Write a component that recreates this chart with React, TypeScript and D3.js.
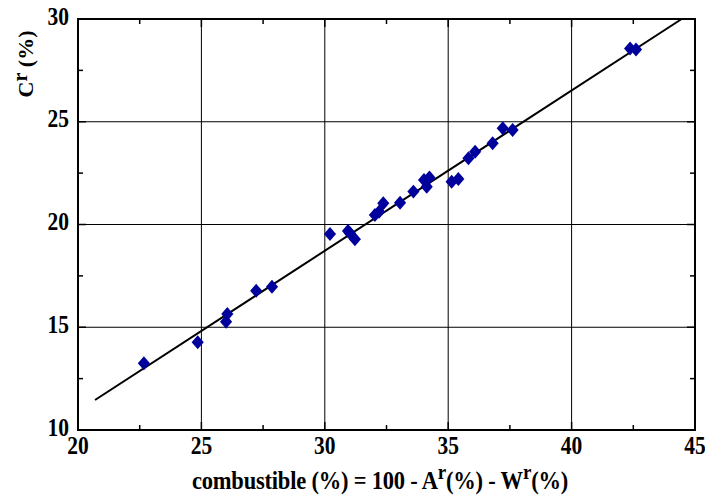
import React, { useEffect, useRef } from 'react'
import * as d3 from 'd3'

// combustible (%) values
const combustible = [
  22.67, 24.85, 26.0, 26.05, 27.22, 27.86,
  30.21, 30.94, 31.02, 31.22, 32.03, 32.2, 32.37, 33.05,
  33.59, 34.02, 34.13, 34.24, 35.14, 35.41, 35.82, 36.09,
  36.8, 37.21, 37.61, 42.37, 42.61,
]
// C^r (%) values
const carbon = [
  13.25, 14.27, 15.27, 15.64, 16.78, 16.97,
  19.54, 19.68, 19.57, 19.28, 20.46, 20.62, 21.03, 21.06,
  21.6, 22.17, 21.84, 22.29, 22.08, 22.21, 23.22, 23.54,
  23.95, 24.68, 24.6, 28.57, 28.52,
]
// fitted line end points
const fitX = [20.69, 44.46]
const fitY = [11.46, 30]

const xTicks = [20, 25, 30, 35, 40, 45]
const yTicks = [10, 15, 20, 25, 30]
const xMinor = [22.5, 27.5, 32.5, 37.5, 42.5]
const yMinor = [12.5, 17.5, 22.5, 27.5]

const FONT = 'Liberation Serif'
// the original figure is a little stretched vertically
const SY = 1.15

export default function App() {
  const ref = useRef<SVGSVGElement>(null)

  useEffect(() => {
    const svg = d3.select(ref.current)
    svg.selectAll('*').remove()

    const margin = { top: 19, right: 10, bottom: 71, left: 78 },
      width = 705 - margin.left - margin.right,
      height = 501 - margin.top - margin.bottom

    const x = d3.scaleLinear().domain([20, 45]).range([0, width]),
      y = d3.scaleLinear().domain([10, 30]).range([height, 0])

    const g = svg.append('g')
      .attr('transform', 'translate(' + margin.left + ',' + margin.top + ')')

    // grid
    g.selectAll('.vgrid').data(xTicks.slice(1, -1)).enter().append('line')
      .attr('x1', d => x(d)).attr('x2', d => x(d))
      .attr('y1', 0).attr('y2', height)
      .attr('stroke', '#000').attr('stroke-width', 1)
    g.selectAll('.hgrid').data(yTicks.slice(1, -1)).enter().append('line')
      .attr('y1', d => y(d)).attr('y2', d => y(d))
      .attr('x1', 0).attr('x2', width)
      .attr('stroke', '#000').attr('stroke-width', 1)

    // inward ticks on all four sides
    const tick = (vals: number[], len: number) => {
      vals.forEach(v => {
        g.append('line').attr('x1', x(v)).attr('x2', x(v)).attr('y1', height).attr('y2', height - len)
          .attr('stroke', '#000').attr('stroke-width', 1.5)
        g.append('line').attr('x1', x(v)).attr('x2', x(v)).attr('y1', 0).attr('y2', len)
          .attr('stroke', '#000').attr('stroke-width', 1.5)
      })
    }
    tick(xMinor, 5)
    tick(xTicks, 8)
    const ytick = (vals: number[], len: number) => {
      vals.forEach(v => {
        g.append('line').attr('y1', y(v)).attr('y2', y(v)).attr('x1', 0).attr('x2', len)
          .attr('stroke', '#000').attr('stroke-width', 1.5)
        g.append('line').attr('y1', y(v)).attr('y2', y(v)).attr('x1', width).attr('x2', width - len)
          .attr('stroke', '#000').attr('stroke-width', 1.5)
      })
    }
    ytick(yMinor, 5)
    ytick(yTicks, 8)

    // fitted line
    const line = d3.line<number>().x((d, i) => x(fitX[i])).y(d => y(d))
    g.append('path').datum(fitY)
      .attr('d', line)
      .attr('fill', 'none').attr('stroke', '#000').attr('stroke-width', 2)

    // points
    const diamond = d3.symbol().type(d3.symbolSquare).size(74)
    g.selectAll('.pt').data(combustible).enter().append('path')
      .attr('d', diamond)
      .attr('transform', (d, i) => 'translate(' + x(d) + ',' + y(carbon[i]) + ') scale(1,' + SY + ') rotate(45)')
      .attr('fill', '#00009c')

    // frame
    g.append('rect').attr('x', 0).attr('y', 0).attr('width', width).attr('height', height)
      .attr('fill', 'none').attr('stroke', '#000').attr('stroke-width', 2)

    // tick labels
    g.selectAll('.xl').data(xTicks).enter().append('text')
      .attr('transform', d => 'translate(' + x(d) + ',' + (height + 24) + ') scale(1,' + SY + ')')
      .attr('text-anchor', 'middle')
      .attr('font-family', FONT).attr('font-weight', 'bold').attr('font-size', 21.5)
      .text(d => d)
    g.selectAll('.yl').data(yTicks).enter().append('text')
      .attr('transform', d => 'translate(-9,' + (y(d) + 5.5) + ') scale(1,' + SY + ')')
      .attr('text-anchor', 'end')
      .attr('font-family', FONT).attr('font-weight', 'bold').attr('font-size', 21.5)
      .text(d => d)

    // x title
    const xt = svg.append('text')
      .attr('transform', 'translate(380,489) scale(1,1.1)')
      .attr('text-anchor', 'middle')
      .attr('font-family', FONT).attr('font-weight', 'bold').attr('font-size', 22.5)
      .attr('letter-spacing', -0.2)
    xt.append('tspan').text('combustible (%) = 100 - A')
    xt.append('tspan').attr('dy', -9).attr('font-size', 19).text('r')
    xt.append('tspan').attr('dy', 9).text('(%) - W')
    xt.append('tspan').attr('dy', -9).attr('font-size', 19).text('r')
    xt.append('tspan').attr('dy', 9).text('(%)')

    // y title
    const yt = svg.append('text')
      .attr('transform', 'translate(33,64) rotate(-90)')
      .attr('text-anchor', 'middle')
      .attr('font-family', FONT).attr('font-weight', 'bold').attr('font-size', 22)
    yt.append('tspan').text('C')
    yt.append('tspan').attr('dy', -6).attr('font-size', 20).text('r')
    yt.append('tspan').attr('dy', 6).text(' (%)')
  }, [])

  return (
    <div style={{ position: 'absolute', left: 0, top: 0 }}>
      <svg ref={ref} width={705} height={501} style={{ display: 'block', background: '#fff' }}></svg>
    </div>
  )
}
